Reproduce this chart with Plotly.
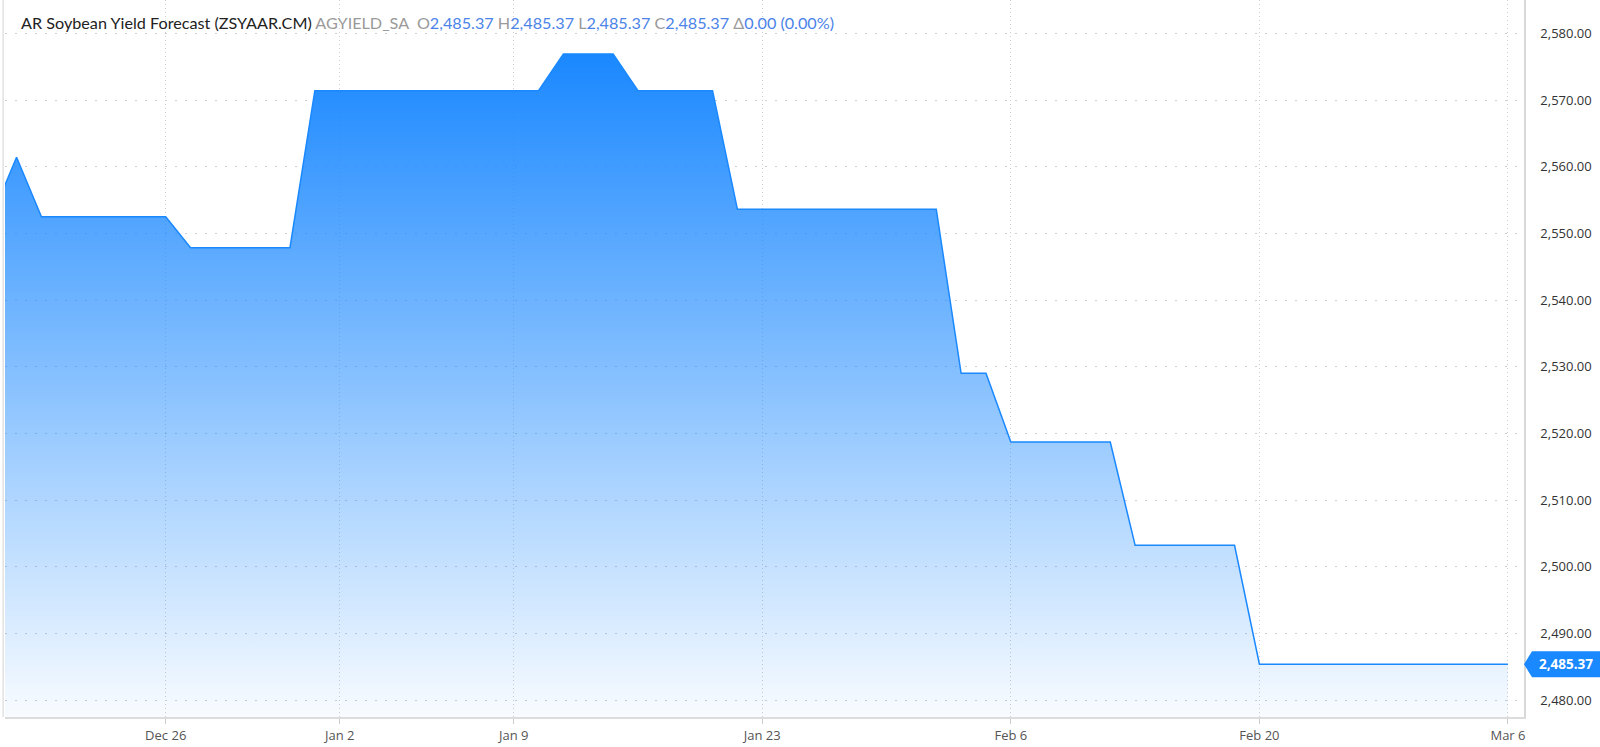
import plotly.graph_objects as go

# ---- data ----
dates = [
    "2022-12-19", "2022-12-20", "2022-12-21", "2022-12-22", "2022-12-23", "2022-12-24", "2022-12-25",
    "2022-12-26", "2022-12-27", "2022-12-28", "2022-12-29", "2022-12-30", "2022-12-31",
    "2023-01-01", "2023-01-02", "2023-01-03", "2023-01-04", "2023-01-05", "2023-01-06", "2023-01-07",
    "2023-01-08", "2023-01-09",
    "2023-01-10", "2023-01-11", "2023-01-12", "2023-01-13",
    "2023-01-16", "2023-01-17", "2023-01-18", "2023-01-19", "2023-01-20",
    "2023-01-23", "2023-01-24", "2023-01-25", "2023-01-26", "2023-01-27",
    "2023-01-30", "2023-01-31", "2023-02-01", "2023-02-02", "2023-02-03",
    "2023-02-06", "2023-02-07", "2023-02-08", "2023-02-09", "2023-02-10",
    "2023-02-13", "2023-02-14", "2023-02-15", "2023-02-16", "2023-02-17",
    "2023-02-20", "2023-02-21", "2023-02-22", "2023-02-23", "2023-02-24",
    "2023-02-27", "2023-02-28", "2023-03-01", "2023-03-02", "2023-03-03",
    "2023-03-06",
]
values = [
    2552.5, 2561.4, 2552.5, 2552.5, 2552.5, 2552.5, 2552.5,
    2552.5, 2547.85, 2547.85, 2547.85, 2547.85, 2547.85,
    2571.4, 2571.4, 2571.4, 2571.4, 2571.4, 2571.4, 2571.4,
    2571.4, 2571.4,
    2571.4, 2576.9, 2576.9, 2576.9,
    2571.4, 2571.4, 2571.4, 2571.4, 2553.6,
    2553.6, 2553.6, 2553.6, 2553.6, 2553.6,
    2553.6, 2553.6, 2553.6, 2529.0, 2529.0,
    2518.7, 2518.7, 2518.7, 2518.7, 2518.7,
    2503.2, 2503.2, 2503.2, 2503.2, 2503.2,
    2485.37, 2485.37, 2485.37, 2485.37, 2485.37,
    2485.37, 2485.37, 2485.37, 2485.37, 2485.37,
    2485.37,
]
tick_dates = ["2022-12-26", "2023-01-02", "2023-01-09", "2023-01-23", "2023-02-06", "2023-02-20", "2023-03-06"]
tick_labels = ["Dec 26", "Jan 2", "Jan 9", "Jan 23", "Feb 6", "Feb 20", "Mar 6"]
y_ticks = [2480, 2490, 2500, 2510, 2520, 2530, 2540, 2550, 2560, 2570, 2580]

BLUE = "#1a88ff"
last = values[-1]

fig = go.Figure()
fig.add_trace(go.Scatter(
    x=dates, y=values, mode="lines",
    line=dict(color=BLUE, width=1.5),
    fill="tozeroy",
    fillgradient=dict(type="vertical", start=2477.45, stop=max(values),
                      colorscale=[[0, "rgba(26,136,255,0.03)"], [1, "rgba(26,136,255,1)"]]),
    hoverinfo="skip", showlegend=False,
))

fig.update_layout(
    width=1600, height=747,
    margin=dict(l=5, r=76, t=0, b=30),
    paper_bgcolor="white", plot_bgcolor="white",
    font=dict(family="Open Sans", size=13, color="#444"),
    xaxis=dict(
        type="category", range=[0.535, 61.645],
        tickvals=tick_dates, ticktext=tick_labels,
        showgrid=True, gridcolor="#cfcfcf", gridwidth=1, griddash="1px,3px",
        showline=True, linecolor="#dcdcdc", linewidth=2,
        ticks="outside", ticklen=5, tickcolor="#cccccc",
        tickfont=dict(family="Open Sans", size=13, color="#555"),
        zeroline=False,
    ),
    yaxis=dict(
        side="right", range=[2477.45, 2585],
        tickvals=y_ticks, tickformat=",.2f",
        showgrid=True, gridcolor="#cfcfcf", gridwidth=1, griddash="2px,8px",
        showline=True, linecolor="#d8d8d8", linewidth=1.5,
        ticks="", ticklabelstandoff=12,
        tickfont=dict(family="Open Sans", size=13, color="#333"),
        zeroline=False,
    ),
)

# left border line
fig.add_shape(type="line", xref="paper", yref="paper", x0=-0.0012, x1=-0.0012, y0=0, y1=1,
              line=dict(color="#e2e2e2", width=1.5))

# last value badge
fig.add_shape(type="path", xref="paper", yref="y",
              xsizemode="pixel", ysizemode="pixel", xanchor=1, yanchor=last,
              path="M 0,0 L 8,13 L 76,13 L 76,-13 L 8,-13 Z",
              fillcolor=BLUE, line=dict(width=0), layer="above")
fig.add_annotation(xref="paper", yref="y", x=1, y=last, xanchor="center", xshift=42,
                   text="<b>" + f"{last:,.2f}" + "</b>", showarrow=False,
                   font=dict(family="Open Sans", size=13.5, color="white"))

# title line
g = "#9a9a9a"
b = "#4b83e8"
v = f"{last:,.2f}"
title = (f"<span style='color:#222'>AR Soybean Yield Forecast (ZSYAAR.CM)</span> "
         f"<span style='color:{g}'>AGYIELD_SA</span>  "
         f"<span style='color:{g}'>O</span><span style='color:{b}'>{v}</span> "
         f"<span style='color:{g}'>H</span><span style='color:{b}'>{v}</span> "
         f"<span style='color:{g}'>L</span><span style='color:{b}'>{v}</span> "
         f"<span style='color:{g}'>C</span><span style='color:{b}'>{v}</span> "
         f"<span style='color:{g}'>Δ</span><span style='color:{b}'>0.00 (0.00%)</span>")
fig.add_annotation(xref="paper", yref="paper", x=0, y=1, xanchor="left", yanchor="middle",
                   xshift=14, yshift=-22, text=title, showarrow=False,
                   font=dict(family="Lato", size=16.2))

fig.write_html("out.html",
               config={"displayModeBar": False},
               post_script="document.body.style.margin='0px';document.body.style.overflow='hidden';")
